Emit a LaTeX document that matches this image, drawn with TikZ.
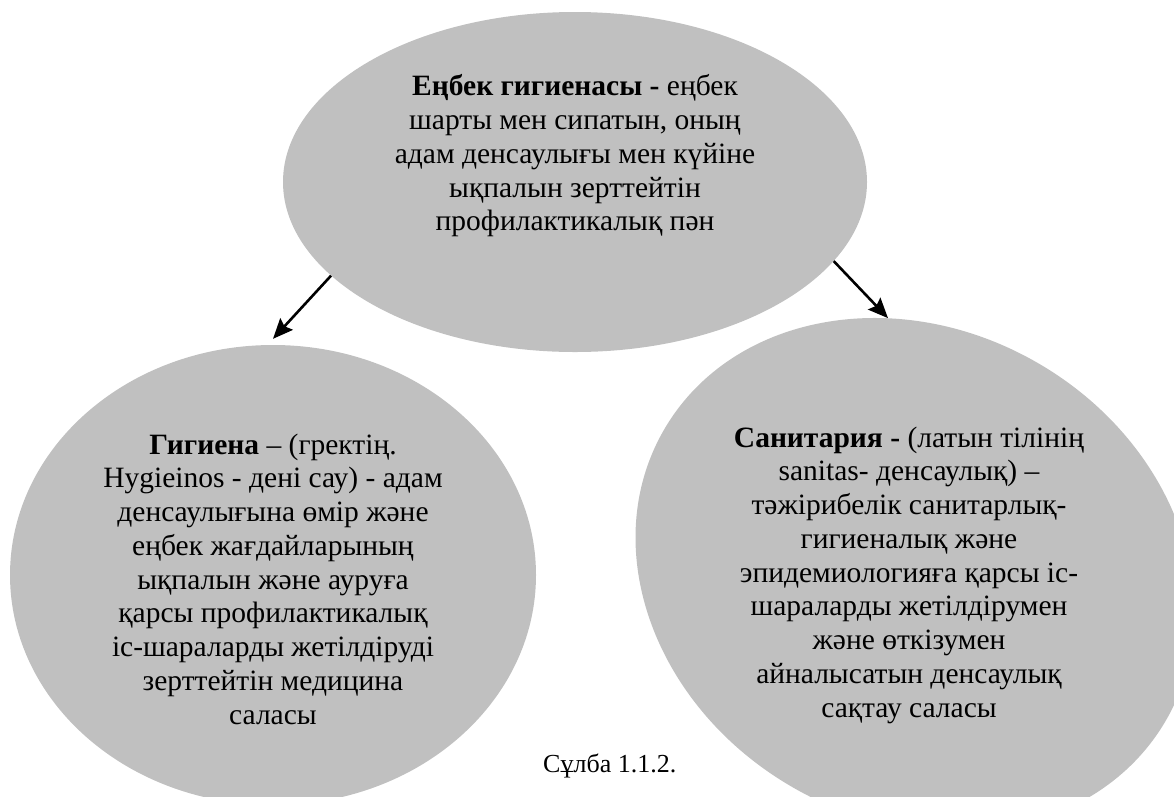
\documentclass[tikz,border=0pt]{standalone}
\usepackage{fontspec}
\setmainfont{LiberationSerif}[Extension=.ttf,UprightFont=*-Regular,BoldFont=*-Bold,ItalicFont=*-Italic]
\usetikzlibrary{arrows.meta,shapes.geometric,positioning}
\definecolor{ovalgray}{RGB}{192,192,192}

\begin{document}
\begin{tikzpicture}[
    x=1pt,y=-1pt,
    oval/.style={ellipse,fill=ovalgray,inner sep=0pt},
    txt/.style={align=center,inner sep=0pt,font=\fontsize{29.5}{33.75}\selectfont},
    arrow/.style={line width=2.6pt,-{Stealth[length=20pt,width=17pt,inset=3pt]}}
]
    \useasboundingbox (0,0) rectangle (1174,796);
    \clip (0,0) rectangle (1174,796);

    % Ovals
    \node[oval,minimum width=584pt,minimum height=340pt] (labour) at (575,182) {};
    \node[oval,minimum width=526pt,minimum height=460pt] (hyg) at (273,575) {};
    \node[oval,minimum width=580pt,minimum height=490pt,rotate=-30] (sanit) at (915,575) {};

    % Texts
    \node[txt] (labour_txt) at ([yshift=26pt]labour.center)
        {\textbf{Еңбек гигиенасы -} еңбек\\шарты мен сипатын, оның\\адам денсаулығы мен күйіне\\ықпалын зерттейтін\\профилактикалық пән};
    \node[txt] (hyg_txt) at ([yshift=-4pt]hyg.center)
        {\textbf{Гигиена} – (гректің.\\Hygieinos - дені сау) - адам\\денсаулығына өмір және\\еңбек жағдайларының\\ықпалын және ауруға\\қарсы профилактикалық\\іс-шараларды жетілдіруді\\зерттейтін медицина\\саласы};
    \node[txt] (sanit_txt) at ([xshift=-6pt]sanit.center)
        {\textbf{Санитария -} (латын тілінің\\sanitas- денсаулық) –\\тәжірибелік санитарлық-\\гигиеналық және\\эпидемиологияға қарсы іс-\\шараларды жетілдірумен\\және өткізумен\\айналысатын денсаулық\\сақтау саласы};

    % Arrows
    \draw[arrow] (labour.201.5) -- ([yshift=6pt]hyg.north);
    \draw[arrow] (labour.343.6) -- (sanit.126);

    % Caption
    \node[anchor=base west,inner sep=0pt,font=\fontsize{26}{30}\selectfont] (caption) at (543,772) {Сұлба 1.1.2.};
\end{tikzpicture}
\end{document}
